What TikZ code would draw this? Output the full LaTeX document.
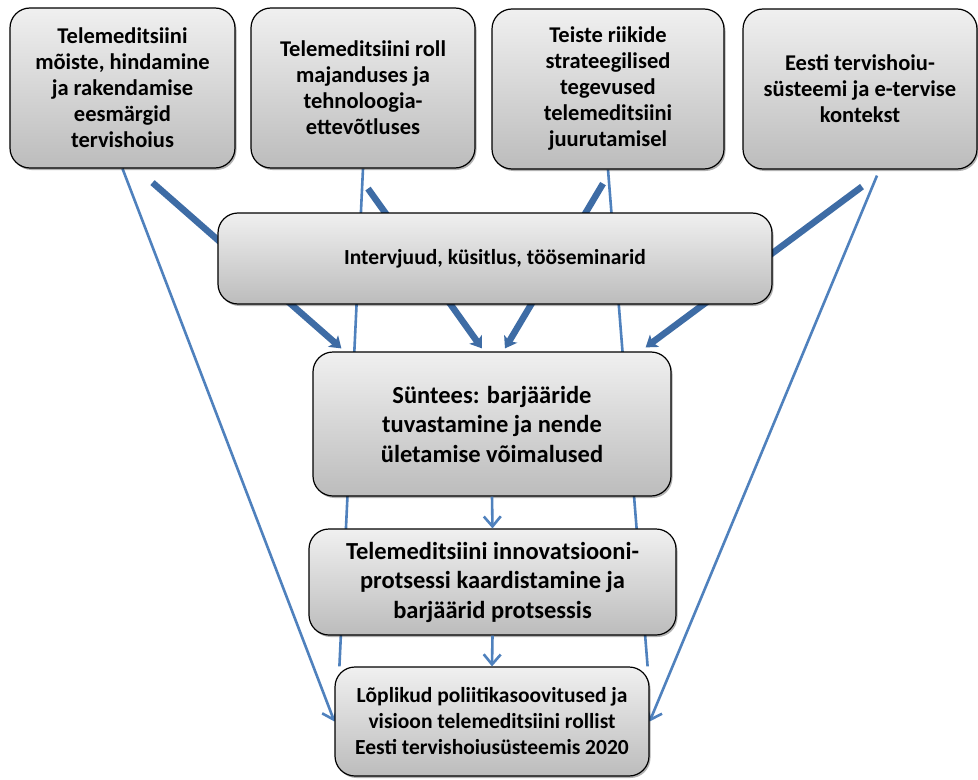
\documentclass[tikz,border=0pt]{standalone}
\usepackage{fontspec}
\setmainfont{Carlito}
\usetikzlibrary{arrows.meta,shadows,calc,backgrounds}
\definecolor{boxtop}{RGB}{240,240,240}
\definecolor{boxbot}{RGB}{188,188,188}
\definecolor{linkblue}{RGB}{79,129,189}
\definecolor{flowblue}{RGB}{62,108,165}
\tikzset{
  box/.style={draw=black, line width=1.2bp, rounded corners=20bp,
    top color=boxtop, bottom color=boxbot, align=center, inner sep=0pt,
    font=\bfseries\fontsize{21.5bp}{26bp}\selectfont,
    drop shadow={shadow xshift=1.5bp, shadow yshift=-2bp, opacity=0.3, fill=black}},
  toptext/.style={font=\bfseries\fontsize{22.5bp}{26bp}\selectfont},
  bigtext/.style={font=\bfseries\fontsize{24.5bp}{29.5bp}\selectfont},
  linkline/.style={draw=linkblue, line width=2.6bp},
  link/.style={linkline, -{Straight Barb[length=10bp,width=17bp]}},
  flow/.style={draw=flowblue, line width=6.5bp, -{Stealth[length=11bp,width=15bp,inset=2.5bp]}}
}
\begin{document}
\begin{tikzpicture}[x=1bp,y=1bp]
\useasboundingbox (0,0) rectangle (978,-780);
% input topics
\node[box, toptext, minimum width=225bp, minimum height=160bp] (b1) at (122.5,-88)
  {Telemeditsiini\\mõiste, hindamine\\ja rakendamise\\eesmärgid\\tervishoius};
\node[box, toptext, minimum width=224bp, minimum height=160bp] (b2) at (363,-88)
  {Telemeditsiini roll\\majanduses ja\\tehnoloogia-\\ettevõtluses};
\node[box, toptext, minimum width=232bp, minimum height=160bp] (b3) at (608,-89)
  {Teiste riikide\\strateegilised\\tegevused\\telemeditsiini\\juurutamisel};
\node[box, toptext, minimum width=234bp, minimum height=160bp] (b4) at (860,-89)
  {Eesti tervishoiu-\\süsteemi ja e-tervise\\kontekst};
% methods
\node[box, minimum width=554bp, minimum height=91bp] (iv) at (495,-258.5)
  {Intervjuud, küsitlus, tööseminarid};
% synthesis chain
\node[box, bigtext, minimum width=358bp, minimum height=144bp] (syn) at (492,-424)
  {Süntees: barjääride\\tuvastamine ja nende\\ületamise võimalused};
\node[box, bigtext, minimum width=367bp, minimum height=106bp] (inn) at (492.5,-582)
  {Telemeditsiini innovatsiooni-\\protsessi kaardistamine ja\\barjäärid protsessis};
\node[box, minimum width=314bp, minimum height=109bp] (fin) at (492,-721.5)
  {Lõplikud poliitikasoovitused ja\\visioon telemeditsiini rollist\\Eesti tervishoiusüsteemis 2020};
% connectors run behind the boxes
\begin{scope}[on background layer]
  \fill[white] (0,0) rectangle (978,-780);
  \draw[link] (b1.south) -- (fin.west);
  \draw[linkline] (b2.south) -- ($(fin.north west)+(5,0)$);
  \draw[linkline] (b3.south) -- ($(fin.north east)+(-2,0)$);
  \draw[link] ($(b4.south)+(17,-6)$) -- (fin.east);
  \draw[flow] ($(b1.south)+(30,-14)$) -- ($(syn.north west)+(29,3)$);
  \draw[flow] ($(b2.south)+(5,-20)$) -- ($(syn.north)+(-10,3)$);
  \draw[flow] ($(b3.south)+(-5,-14)$) -- ($(syn.north)+(13,3)$);
  \draw[flow] ($(b4.south)+(2,-17)$) -- ($(syn.north east)+(-26,4)$);
\end{scope}
\draw[link] (syn.south) -- (inn.north);
\draw[link] (inn.south) -- (fin.north);
\end{tikzpicture}
\end{document}
